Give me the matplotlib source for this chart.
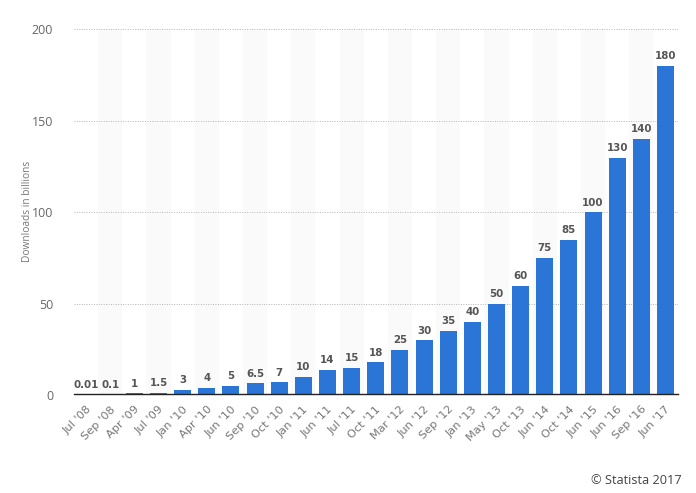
import numpy as np
import matplotlib
matplotlib.use('Agg')
import matplotlib.pyplot as plt
from matplotlib.transforms import ScaledTranslation

W, H = 696, 493

dates = ["Jul '08", "Sep '08", "Apr '09", "Jul '09", "Jan '10", "Apr '10", "Jun '10", "Sep '10",
         "Oct '10", "Jan '11", "Jun '11", "Jul '11", "Oct '11", "Mar '12", "Jun '12", "Sep '12",
         "Jan '13", "May '13", "Oct '13", "Jun '14", "Oct '14", "Jun '15", "Jun '16", "Sep '16", "Jun '17"]
downloads = [0.01, 0.1, 1, 1.5, 3, 4, 5, 6.5, 7, 10, 14, 15, 18, 25, 30, 35, 40, 50, 60, 75, 85, 100, 130, 140, 180]
value_labels = ["0.01", "0.1", "1", "1.5", "3", "4", "5", "6.5", "7", "10", "14", "15", "18", "25", "30",
                "35", "40", "50", "60", "75", "85", "100", "130", "140", "180"]
y_ticks = [0, 50, 100, 150, 200]

plt.rcParams['font.family'] = ['Open Sans', 'DejaVu Sans']

fig = plt.figure(figsize=(W / 100, H / 100), dpi=100)
ax = fig.add_axes([74 / W, 1 - 395.3 / H, (677.5 - 74) / W, (395.3 - 29.5) / H])

# set_position resets the ticks, so do it before styling them
ax.spines['bottom'].set_position(('outward', -0.6))

x = np.arange(len(dates))
ax.set_xlim(-0.5, len(dates) - 0.5)
ax.set_ylim(0, 200)

# alternating background stripes
for i in x[1::2]:
    ax.axvspan(i - 0.5, i + 0.5, color='#fafafa', lw=0, zorder=0)

ax.bar(x, downloads, width=0.704, color='#2b75d6', zorder=3)
ax.set_axisbelow(True)
ax.yaxis.grid(True, color='#b5b5b5', lw=0.7, ls=(0, (1, 1.5)), zorder=1)

for i, lab in zip(x, value_labels):
    ax.annotate(lab, (i, downloads[i]), xytext=(0, 3.5), textcoords='offset points', ha='center', va='bottom',
                fontsize=7.4, fontweight='bold', family='DejaVu Sans', color='#555555', zorder=4)

ax.set_xticks(x)
ax.set_xticklabels(dates, rotation=45, ha='right', rotation_mode='anchor', fontsize=8.2,
                   family='DejaVu Sans', color='#777777')
# nudge the rotated labels left a little
shift = ScaledTranslation(-2 / 100, 0, fig.dpi_scale_trans)
for lab in ax.get_xticklabels():
    lab.set_transform(lab.get_transform() + shift)
ax.set_yticks(y_ticks)
ax.tick_params(axis='y', length=0, labelsize=9, labelcolor='#666666', pad=15)
ax.tick_params(axis='x', length=0, pad=7)
for s in ['top', 'right', 'left']:
    ax.spines[s].set_visible(False)
ax.spines['bottom'].set_color('#222222')
ax.spines['bottom'].set_linewidth(1.0)
ax.spines['bottom'].set_zorder(5)

fig.text(28 / W, 1 - 211 / H, 'Downloads in billions', rotation=90, ha='center', va='center',
         fontsize=7.3, color='#777777')
fig.text(682 / W, 1 - 480 / H, '© Statista 2017', ha='right', va='center', fontsize=9.2, color='#444444')

fig.savefig('out.png', dpi=100)
